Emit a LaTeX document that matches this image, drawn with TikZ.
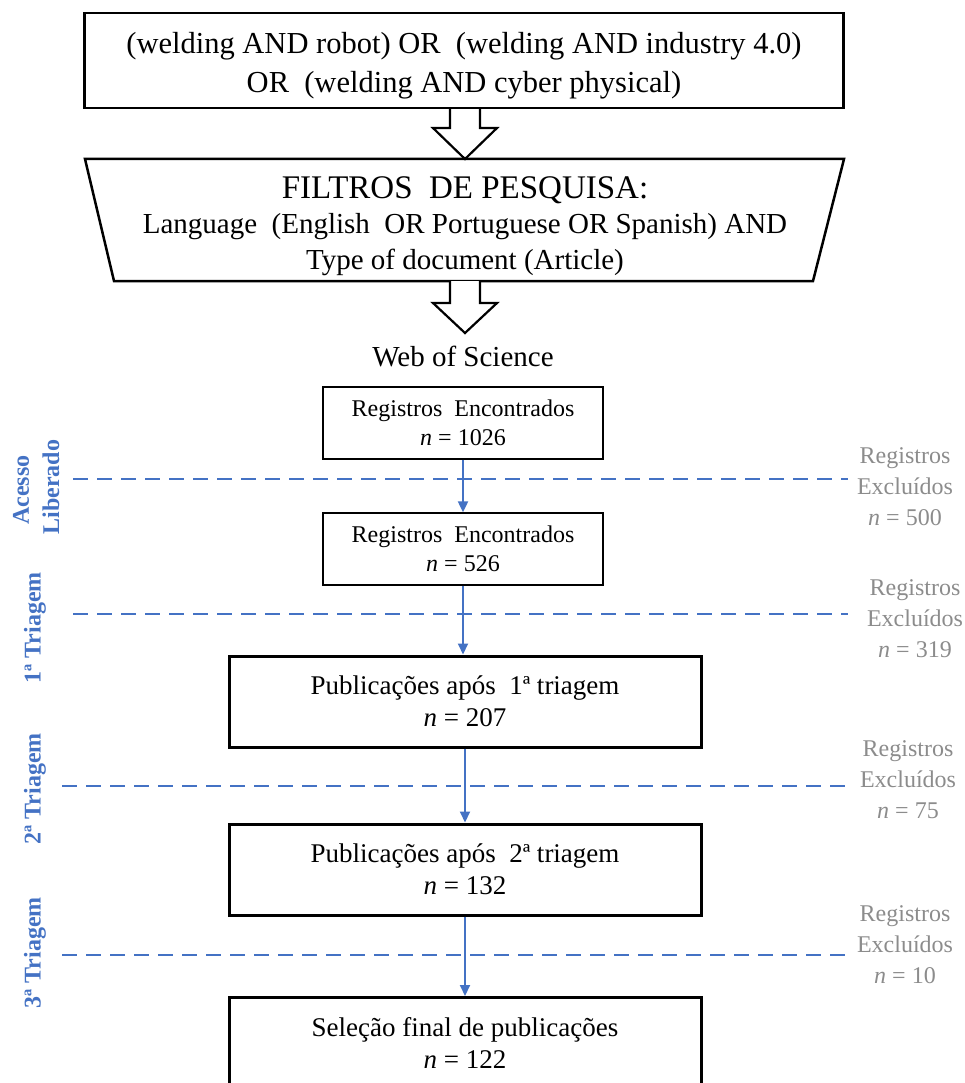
\documentclass[tikz,border=0pt]{standalone}
\usepackage{fontspec}
\setmainfont{Liberation Serif}
\usetikzlibrary{arrows.meta,calc}
\definecolor{wblue}{RGB}{68,114,196}
\definecolor{wgray}{RGB}{140,140,140}
\begin{document}
\begin{tikzpicture}[x=1pt,y=-1pt,
  qbox/.style={draw=black,line width=2.5pt,minimum width=759pt,minimum height=95pt,inner sep=0pt},
  qtext/.style={align=center,inner sep=0pt,font=\fontsize{30.5}{39}\selectfont},
  hollow/.style={draw=black,line width=2.2pt,fill=white,line join=miter},
  thinbox/.style={draw=black,line width=1.3pt,minimum width=280pt,minimum height=72pt,inner sep=0pt,align=center,font=\fontsize{24}{29}\selectfont},
  thickbox/.style={draw=black,line width=3pt,minimum width=472pt,minimum height=91pt,inner sep=0pt,align=center,font=\fontsize{27}{32}\selectfont},
  flow/.style={draw=wblue,line width=2pt,-{Triangle[width=10pt,length=11pt]}},
  sepline/.style={draw=wblue,line width=2.5pt,dash pattern=on 15pt off 9pt},
  stage/.style={rotate=90,text=wblue,font=\bfseries\fontsize{24}{30}\selectfont,inner sep=0pt},
  excl/.style={text=wgray,align=center,font=\fontsize{24}{31}\selectfont,inner sep=0pt}]
\useasboundingbox (0,0) rectangle (965,1083);

% top query box
\node[qbox] (q) at (464,60.5) {};
\node[qtext] (qt) at (464,66) {(welding AND robot) OR\ \ (welding AND industry 4.0)\\OR\ \ (welding AND cyber physical)};

% filter trapezoid
\coordinate (ftop) at (465,159);
\coordinate (fbot) at (465,281);
\draw[line width=2.5pt,line join=miter] (85,159) -- (844,159) -- (813,281) -- (114,281) -- cycle;
\node[align=center,inner sep=0pt,font=\fontsize{29}{35.5}\selectfont] (filt) at (465,226) {{\fontsize{33}{35}\selectfont FILTROS\ \ DE PESQUISA:}\\
  Language\ \ (English\ \ OR Portuguese OR Spanish) AND\\
  Type of document (Article)};

% hollow arrows
\draw[hollow] ($(q.south -| ftop)+(-15,0)$) -- ($(ftop)+(-15,-31)$) -- ($(ftop)+(-32,-31)$) -- (ftop)
  -- ($(ftop)+(32,-31)$) -- ($(ftop)+(15,-31)$) -- ($(q.south -| ftop)+(15,0)$);
\coordinate (wtip) at (465,333);
\draw[hollow] ($(fbot)+(-15,0)$) -- ($(wtip)+(-15,-30)$) -- ($(wtip)+(-32,-30)$) -- (wtip)
  -- ($(wtip)+(32,-30)$) -- ($(wtip)+(15,-30)$) -- ($(fbot)+(15,0)$);

\node[font=\fontsize{29}{35}\selectfont,inner sep=0pt] (wos) at (463,357) {Web of Science};

% boxes
\node[thinbox] (b1) at (463,423) {Registros\ \ Encontrados\\{\itshape n} = 1026};
\node[thinbox] (b2) at (463,549) {Registros\ \ Encontrados\\{\itshape n} = 526};
\node[thickbox] (b3) at (465,701.5) {Publicações após\ \ 1ª triagem\\{\itshape n} = 207};
\node[thickbox] (b4) at (465,869.5) {Publicações após\ \ 2ª triagem\\{\itshape n} = 132};
\node[thickbox] (b5) at (465,1043) {Seleção final de publicações\\{\itshape n} = 122};

% separator dashed lines
\draw[sepline] (73,479) -- (848,479);
\draw[sepline] (73,614) -- (848,614);
\draw[sepline] (62,786) -- (848,786);
\draw[sepline] (62,955) -- (848,955);

% flow arrows
\draw[flow] (b1) -- (b2);
\draw[flow] (b2.south) -- (b2.south |- b3.north);
\draw[flow] (b3) -- (b4);
\draw[flow] (b4) -- (b5);

% stage labels
\node[stage] (s0a) at (21,490) {Acesso};
\node[stage] (s0b) at (51,487) {Liberado};
\node[stage] (s1) at (35,628) {1ª Triagem};
\node[stage] (s2) at (35,789) {2ª Triagem};
\node[stage] (s3) at (35,953) {3ª Triagem};

% excluded labels
\node[excl] (e1) at (905,487) {Registros\\Excluídos\\{\itshape n} = 500};
\node[excl] (e2) at (915,619) {Registros\\Excluídos\\{\itshape n} = 319};
\node[excl] (e3) at (908,780) {Registros\\Excluídos\\{\itshape n} = 75};
\node[excl] (e4) at (905,945) {Registros\\Excluídos\\{\itshape n} = 10};
\end{tikzpicture}
\end{document}
